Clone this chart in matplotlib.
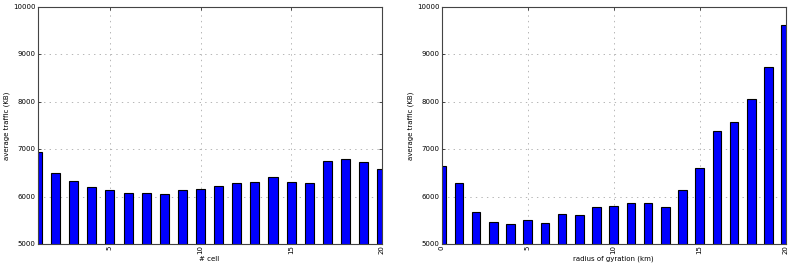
import matplotlib
matplotlib.use("Agg")
import matplotlib.pyplot as plt

cells = list(range(1, 21))
traffic_cells = [6944, 6493, 6331, 6211, 6134, 6085, 6085, 6056, 6148, 6169,
                 6218, 6275, 6310, 6408, 6310, 6275, 6754, 6782, 6732, 6577]

radius = list(range(0, 21))
traffic_radius = [6650, 6280, 5671, 5469, 5427, 5510, 5448, 5622, 5615, 5790, 5797,
                  5867, 5867, 5783, 6140, 6608, 7371, 7566, 8049, 8727, 9622]

xticks = [5, 10, 15, 20]
xticks_r = [0, 5, 10, 15, 20]
yticks = [5000, 6000, 7000, 8000, 9000, 10000]

plt.style.use('classic')
fig = plt.figure(figsize=(7.89, 2.67), dpi=100)
fig.patch.set_facecolor('white')

ax1 = fig.add_axes([37.5/789, 1-244/267, 344.2/789, (244-6.7)/267])
ax2 = fig.add_axes([441.7/789, 1-244/267, 344/789, (244-6.7)/267])

def style(ax, xs, ys, xl, xt, xlabel):
    ax.bar(xs, ys, width=0.5, align='center', color='#0000ff', edgecolor='black', linewidth=0.8, zorder=2)
    ax.set_xlim(*xl)
    ax.set_ylim(5000, 10000)
    ax.set_xticks(xt)
    ax.set_xticklabels([str(t) for t in xt], rotation=90, fontsize=5)
    ax.set_yticks(yticks)
    ax.set_yticklabels([str(t) for t in yticks], fontsize=5)
    ax.grid(True, color='#aaaaaa', linestyle=':', linewidth=0.6, zorder=0)
    ax.set_axisbelow(True)
    ax.set_xlabel(xlabel, fontsize=5, labelpad=1)
    ax.set_ylabel('average traffic (KB)', fontsize=5, labelpad=2)
    ax.tick_params(axis='x', which='major', length=2, width=0.5, pad=1)
    ax.tick_params(axis='y', which='major', length=2, width=0.5, pad=1.5)
    for s in ax.spines.values():
        s.set_linewidth(0.8)
        s.set_color('#444444')

style(ax1, cells, traffic_cells, (1, 20), xticks, '# cell')
style(ax2, radius, traffic_radius, (0, 20), xticks_r, 'radius of gyration (km)')

fig.savefig('out.png', dpi=100, facecolor='white')
